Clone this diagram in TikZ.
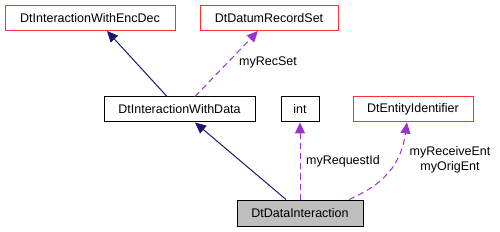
\documentclass[tikz,border=0pt]{standalone}
\usepackage{fontspec}
\setmainfont{Liberation Sans}
\usetikzlibrary{arrows.meta}
\definecolor{edgeblue}{HTML}{191970}
\definecolor{edgepurple}{HTML}{9A32CD}
\definecolor{boxred}{HTML}{FF3030}
\definecolor{boxgray}{HTML}{BFBFBF}
\tikzset{
  cls/.style={draw=black,line width=1pt,minimum height=25pt,inner sep=0pt,font=\fontsize{12.5}{14}\selectfont},
  extcls/.style={cls,draw=boxred},
  inherit/.style={draw=edgeblue,line width=1pt,-{Triangle[length=11pt,width=10pt]}},
  uses/.style={draw=edgepurple,line width=1pt,dash pattern=on 6pt off 4pt,-{Triangle[length=11pt,width=10pt,fill=edgepurple]}},
  elabel/.style={font=\fontsize{12.5}{15}\selectfont,align=center,inner sep=0pt}
}
\begin{document}
\begin{tikzpicture}[x=1pt,y=-1pt]
\useasboundingbox (0,0) rectangle (500,232);

\node[extcls,minimum width=170pt] (encdec) at (90,18) {DtInteractionWithEncDec};
\node[extcls,minimum width=138pt] (recset) at (269,18) {DtDatumRecordSet};
\node[cls,minimum width=151pt] (withdata) at (179.5,109.5) {DtInteractionWithData};
\node[cls,minimum width=38pt] (int) at (300,109.5) {int};
\node[extcls,minimum width=120pt] (entid) at (413,109.5) {DtEntityIdentifier};
\node[cls,fill=boxgray,minimum width=126pt,minimum height=26pt] (datainter) at (300,213) {DtDataInteraction};

% inheritance
\draw[inherit] ([xshift=-12.5pt]withdata.north) -- ([xshift=17pt]encdec.south);
\draw[inherit] ([xshift=-14pt]datainter.north) -- ([xshift=15.5pt]withdata.south);

% usage
\draw[uses] ([xshift=15.5pt]withdata.north) -- ([xshift=-11pt]recset.south);
\node[elabel] (lrecset) at (268,62) {myRecSet};
\draw[uses] (datainter.north) -- (int.south);
\node[elabel] (lreqid) at (343,161) {myRequestId};
\draw[uses] ([xshift=49pt]datainter.north) .. controls (375,188) and (400,172) .. ([xshift=-6pt]entid.south);
\node[elabel] (lent) at (450,160) {myReceiveEnt\\myOrigEnt};
\end{tikzpicture}
\end{document}
